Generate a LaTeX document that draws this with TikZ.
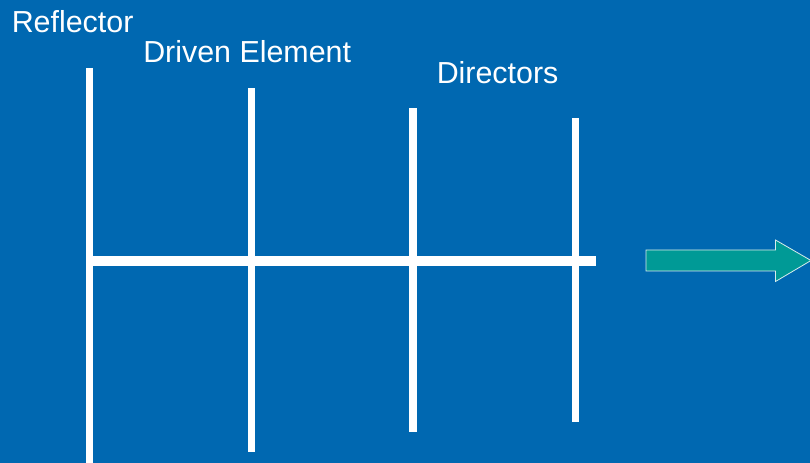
\documentclass[tikz,border=0pt]{standalone}
\usepackage{fontspec}
\setmainfont{Liberation Sans}
\usetikzlibrary{positioning}
\definecolor{Yagi_Blue}{HTML}{0068B1}
\definecolor{Yagi_Teal}{HTML}{009A96}
\definecolor{Yagi_Edge}{HTML}{D8ECEC}

\begin{document}
\begin{tikzpicture}[x=0.75pt, y=-0.75pt,
    element/.style={white, line width=5.5pt},
    label/.style={white, anchor=base west, inner sep=0pt, font=\fontsize{22.8}{27}\selectfont}]
    % Background
    \fill[Yagi_Blue] (0,0) rectangle (810,463);
    \useasboundingbox (0,0) rectangle (810,463);

    % Boom
    \draw[white, line width=7pt] (86,261) -- (595.5,261);

    % Reflector, driven element and directors
    \draw[element] (89.7,68) -- (89.7,463);
    \draw[element] (251.8,88.5) -- (251.8,452.3);
    \draw[element] (413.1,108.5) -- (413.1,432.3);
    \draw[element] (575.2,118.5) -- (575.2,422.3);

    % Labels
    \node[label] (reflector) at (11.5,32.5) {Reflector};
    \node[label] (driven) at (143,62.5) {Driven Element};
    \node[label] (directors) at (436.5,83.3) {Directors};

    % Direction arrow
    \draw[Yagi_Edge, line width=0.6pt, fill=Yagi_Teal]
        (646,250) -- (775.5,250) -- (775.5,240) -- (811,260.5)
        -- (775.5,281.5) -- (775.5,271) -- (646,271) -- cycle;
\end{tikzpicture}
\end{document}
